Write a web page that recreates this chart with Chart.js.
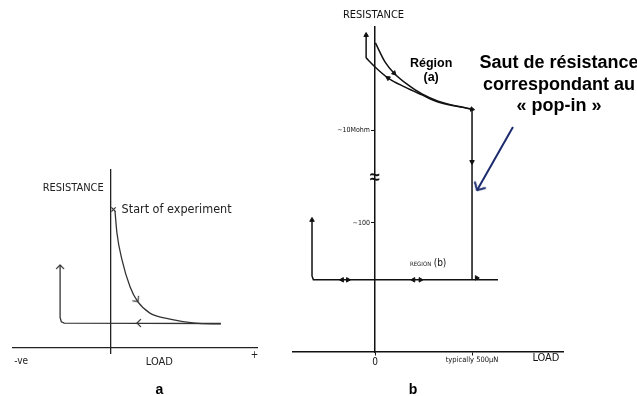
<!DOCTYPE html>
<html>
<head>
<meta charset="utf-8">
<script src="https://cdn.jsdelivr.net/npm/chart.js@4"></script>
<style>
  body { margin: 0; background: #fff; width: 637px; height: 396px; overflow: hidden; position: relative; }
  canvas { position: absolute; }
</style>
</head>
<body>
<canvas id="chartA" width="280" height="246" style="left:0;top:150px"></canvas>
<canvas id="chartB" width="357" height="396" style="left:280px;top:0"></canvas>
<script>
// panel a : sketch units
var loadA = [0.18, 0.26, 0.47, 0.80, 1.12, 1.61, 2.43, 3.46, 4.52];
var resA = [6.15, 5.16, 3.94, 2.73, 2.05, 1.55, 1.28, 1.10, 1.06];
var backLoadA = [4.52, -1.90, -2.02, -2.07, -2.07];
var backResA = [1.08, 1.10, 1.16, 1.35, 3.72];
var markLoadA = [0.12, 1.12, 1.08, -2.07];
var markResA = [6.22, 2.07, 1.10, 3.72];
var markTurnA = [0, 142, 270, 0];

// panel b : load in µN, resistance in sketch units (broken axis)
var upLoadB = [2, 52, 98, 170, 242, 325, 500];
var upResB = [9.51, 8.92, 8.58, 8.22, 7.94, 7.72, 7.47];
var lowLoadB = [-46, 0, 67, 155, 242, 325, 500];
var lowResB = [9.05, 8.77, 8.43, 8.15, 7.91, 7.69, 7.47];
var stubLoadB = [-46, -46];
var stubResB = [9.05, 9.75];
var dropLoadB = [500, 500];
var dropResB = [7.47, 2.22];
var regionLoadB = [-325, -325, -318, 634];
var regionResB = [4.06, 2.34, 2.22, 2.22];
var markLoadB = [-46, -325, 98, 67, 500, 500, 524, -170, -140, 198, 234];
var markResB = [9.75, 4.06, 8.58, 8.43, 7.47, 5.85, 2.28, 2.22, 2.22, 2.22, 2.22];
var markTurnB = [0, 0, 135, 304, 100, 180, 90, 270, 90, 270, 90];
var navyLoadB = [711, 526];
var navyResB = [6.92, 4.98];

var loadTicksB = [0, 500];
var loadTickTextB = ['0', 'typically 500µN'];
var resTicksB = [3.97, 6.83];
var resTickTextB = ['~100', '~10Mohm'];

var narrow = "'Liberation Sans Narrow', 'DejaVu Sans Condensed', sans-serif";
var sans = "'Liberation Sans', Arial, sans-serif";

function pts(xs, ys) {
    return xs.map(function(v, i) { return {x: v, y: ys[i]}; });
}

function chevron(size, color, width) {
    var c = document.createElement('canvas');
    c.width = size; c.height = size;
    var g = c.getContext('2d');
    var m = size / 2, a = size * 0.36;
    g.strokeStyle = color; g.lineWidth = width;
    g.lineCap = 'round'; g.lineJoin = 'round';
    g.beginPath();
    g.moveTo(m - a, m + a); g.lineTo(m, m); g.lineTo(m + a, m + a);
    g.stroke();
    return c;
}

function notes(items) {
    return {
        id: 'notes',
        afterDraw: function(chart) {
            var ctx = chart.ctx, xs = chart.scales.x, ys = chart.scales.y;
            ctx.save();
            items.forEach(function(n) {
                ctx.font = n.font;
                ctx.fillStyle = n.color || '#111';
                ctx.textAlign = n.align || 'center';
                ctx.textBaseline = 'middle';
                ctx.fillText(n.text, xs.getPixelForValue(n.x), ys.getPixelForValue(n.y));
            });
            ctx.restore();
        }
    };
}

Chart.defaults.animation = false;
Chart.defaults.font.family = narrow;

var chevA = chevron(10, '#333', 1.2);
var chevNavy = chevron(16, '#1c2b6e', 2);

//panel a
new Chart(document.getElementById('chartA'), {
    type: 'scatter',
    data: {
        datasets: [
            {data: pts(loadA, resA), showLine: true, borderColor: '#333', borderWidth: 1.3,
             pointRadius: 0, cubicInterpolationMode: 'monotone'},
            {data: pts(backLoadA, backResA), showLine: true, borderColor: '#333', borderWidth: 1.3,
             pointRadius: 0, tension: 0},
            {data: pts(markLoadA, markResA), showLine: false,
             pointStyle: ['crossRot', chevA, chevA, chevA], pointRadius: 3,
             pointRotation: markTurnA, borderColor: '#333', borderWidth: 1.2}
        ]
    },
    options: {
        responsive: false,
        layout: {padding: {left: 13, right: 23, top: 20, bottom: 43}},
        plugins: {legend: {display: false}, tooltip: {enabled: false}},
        scales: {
            x: {type: 'linear', min: -4, max: 6, position: {y: 0},
                ticks: {display: false}, grid: {display: false},
                border: {color: '#222', width: 1.3}},
            y: {type: 'linear', min: -0.25, max: 8, position: {x: 0},
                ticks: {display: false}, grid: {display: false},
                border: {color: '#222', width: 1.3}}
        }
    },
    plugins: [notes([
        {text: 'RESISTANCE', x: -0.28, y: 7.19, align: 'right', font: '11px ' + narrow, color: '#222'},
        {text: 'Start of experiment', x: 0.45, y: 6.22, align: 'left', font: '12.5px ' + narrow, color: '#222'},
        {text: '-ve', x: -3.95, y: -0.62, align: 'left', font: '10px ' + narrow, color: '#222'},
        {text: '+', x: 5.9, y: -0.38, font: '10px ' + narrow, color: '#222'},
        {text: 'LOAD', x: 2.0, y: -0.66, font: '11px ' + narrow, color: '#222'},
        {text: 'a', x: 2.0, y: -1.93, font: 'bold 14px ' + sans, color: '#000'}
    ])]
});

//panel b
new Chart(document.getElementById('chartB'), {
    type: 'scatter',
    data: {
        datasets: [
            {data: pts(upLoadB, upResB), showLine: true, borderColor: '#111', borderWidth: 1.5,
             pointRadius: 0, cubicInterpolationMode: 'monotone'},
            {data: pts(lowLoadB, lowResB), showLine: true, borderColor: '#111', borderWidth: 1.5,
             pointRadius: 0, cubicInterpolationMode: 'monotone'},
            {data: pts(stubLoadB, stubResB), showLine: true, borderColor: '#111', borderWidth: 1.5,
             pointRadius: 0},
            {data: pts(dropLoadB, dropResB), showLine: true, borderColor: '#111', borderWidth: 1.5,
             pointRadius: 0},
            {data: pts(regionLoadB, regionResB), showLine: true, borderColor: '#111', borderWidth: 1.5,
             pointRadius: 0, tension: 0},
            {data: pts(markLoadB, markResB), showLine: false, pointStyle: 'triangle',
             pointRadius: 2.6, pointRotation: markTurnB,
             backgroundColor: '#111', borderColor: '#111', borderWidth: 1},
            {data: pts(navyLoadB, navyResB), showLine: true, borderColor: '#1c2b6e', borderWidth: 2,
             pointStyle: chevNavy, pointRadius: [0, 4], pointRotation: [0, 210]}
        ]
    },
    options: {
        responsive: false,
        layout: {padding: {left: 13, right: 74, top: 27, bottom: 44}},
        plugins: {legend: {display: false}, tooltip: {enabled: false}},
        scales: {
            x: {type: 'linear', min: -423, max: 969, position: {y: 0},
                afterBuildTicks: function(s) { s.ticks = loadTicksB.map(function(v) { return {value: v}; }); },
                ticks: {autoSkip: false, maxRotation: 0, padding: 1, color: '#111',
                        callback: function(v, i) { return loadTickTextB[i]; },
                        font: function(c) { return {size: c.index === 0 ? 10 : 7.5, family: narrow}; }},
                grid: {display: true, drawOnChartArea: false, tickLength: 3, color: '#111'},
                border: {color: '#111', width: 1.5}},
            y: {type: 'linear', min: 0, max: 10, position: {x: 0},
                afterBuildTicks: function(s) { s.ticks = resTicksB.map(function(v) { return {value: v}; }); },
                ticks: {autoSkip: false, padding: 5, color: '#111',
                        // labels on a value-positioned axis sit on the line, so pad them with spaces
                        callback: function(v, i) { return resTickTextB[i] + '\u2002 '; },
                        font: {size: 7, family: narrow}},
                grid: {display: true, drawOnChartArea: false, tickLength: 3, color: '#111'},
                border: {color: '#111', width: 1.5}}
        }
    },
    plugins: [notes([
        {text: 'RESISTANCE', x: -8, y: 10.37, font: '11px ' + narrow},
        {text: '≈', x: 0, y: 5.35, font: 'bold 18px ' + sans},
        {text: 'Région', x: 289, y: 8.89, font: 'bold 12.5px ' + sans, color: '#000'},
        {text: '(a)', x: 289, y: 8.45, font: 'bold 12.5px ' + sans, color: '#000'},
        {text: 'Saut de résistance', x: 948, y: 8.89, font: 'bold 18px ' + sans, color: '#000'},
        {text: 'correspondant au', x: 948, y: 8.22, font: 'bold 18px ' + sans, color: '#000'},
        {text: '« pop-in »', x: 948, y: 7.57, font: 'bold 18px ' + sans, color: '#000'},
        {text: 'REGION', x: 180, y: 2.7, align: 'left', font: '6px ' + narrow},
        {text: '(b)', x: 302, y: 2.72, align: 'left', font: '10px ' + narrow},
        {text: 'LOAD', x: 881, y: -0.2, font: '11px ' + narrow},
        {text: 'b', x: 196, y: -1.17, font: 'bold 14px ' + sans, color: '#000'}
    ])]
});
</script>
</body>
</html>
